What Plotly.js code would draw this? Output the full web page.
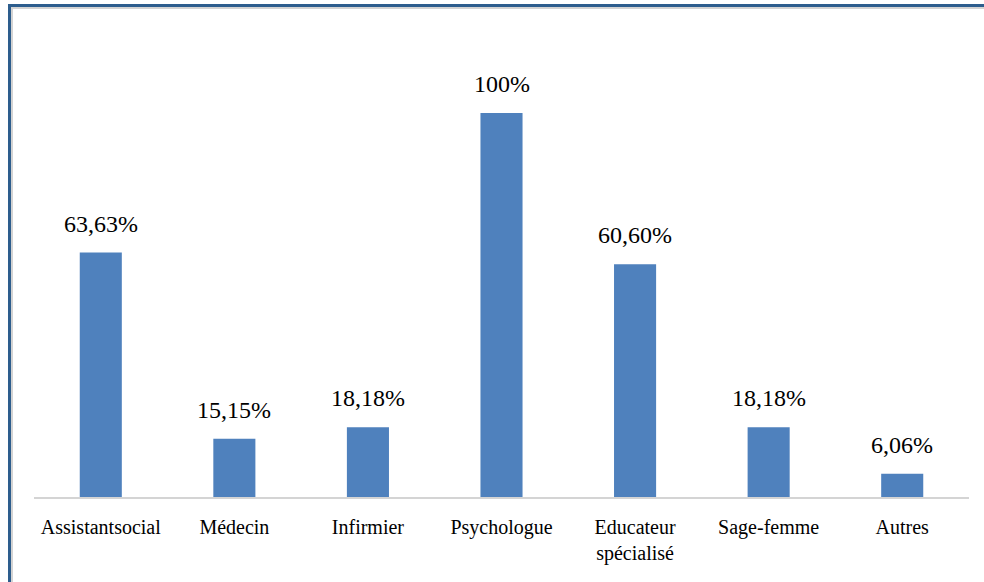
<!DOCTYPE html>
<html>
<head>
<meta charset="utf-8">
<script src="https://cdn.plot.ly/plotly-3.0.1.min.js"></script>
<style>
  html, body { margin: 0; padding: 0; background: #ffffff; }
  #chart { position: absolute; left: 0; top: 0; width: 984px; height: 582px; }
  .frame-outer { position: absolute; left: 8px; top: 4px; width: 990px; height: 600px;
    border-left: 3px solid #2d5d8d; border-top: 3px solid #2d5d8d; pointer-events: none; }
  .frame-inner { position: absolute; left: 11px; top: 7px; width: 990px; height: 600px;
    border-left: 2px solid #d3d3d3; border-top: 2px solid #d3d3d3; pointer-events: none; }
</style>
</head>
<body>
<div id="chart"></div>
<div class="frame-outer"></div>
<div class="frame-inner"></div>
<script>
// Professions and their share (%)
const categories = ["Assistantsocial", "Médecin", "Infirmier", "Psychologue",
                    "Educateur<br>spécialisé", "Sage-femme", "Autres"];
const values = [63.63, 15.15, 18.18, 100, 60.60, 18.18, 6.06];
const valueLabels = ["63,63%", "15,15%", "18,18%", "100%", "60,60%", "18,18%", "6,06%"];

const serif = "Liberation Serif";

const trace = {
  type: "bar",
  x: categories,
  y: values,
  marker: { color: "#4f81bd" },
  hoverinfo: "none"
};

// Value labels sitting above each bar
const annotations = categories.map((c, i) => ({
  x: c,
  y: values[i],
  xref: "x",
  yref: "y",
  text: valueLabels[i],
  showarrow: false,
  yanchor: "bottom",
  yshift: 14,
  font: { family: serif, size: 24, color: "#000000" }
}));

const layout = {
  width: 984,
  height: 582,
  margin: { l: 34, r: 15, t: 20, b: 85 },
  paper_bgcolor: "#ffffff",
  plot_bgcolor: "#ffffff",
  bargap: 0.685,
  showlegend: false,
  font: { family: serif, color: "#000000" },
  xaxis: {
    type: "category",
    showline: true,
    linecolor: "#d4d4d4",
    linewidth: 2,
    showgrid: false,
    zeroline: false,
    ticks: "",
    ticklabelstandoff: 11,
    tickfont: { family: serif, size: 20, color: "#000000" }
  },
  yaxis: {
    range: [0, 124.2],
    showgrid: false,
    zeroline: false,
    showline: false,
    showticklabels: false,
    ticks: ""
  },
  annotations: annotations
};

Plotly.newPlot("chart", [trace], layout, { staticPlot: true, displayModeBar: false });
</script>
</body>
</html>
